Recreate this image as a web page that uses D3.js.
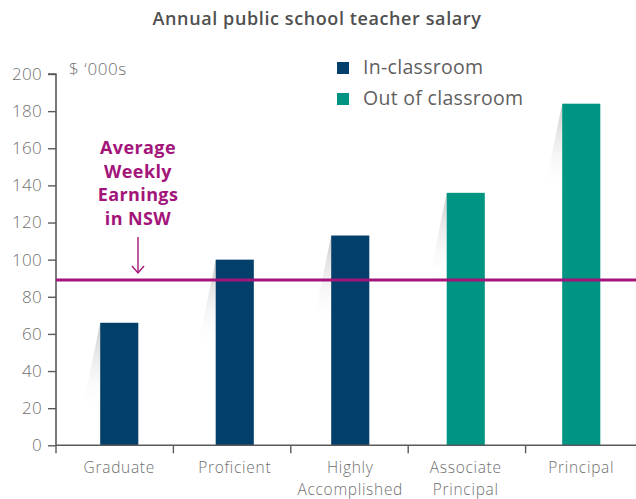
<!DOCTYPE html>
<html>
<head>
<meta charset="utf-8">
<script src="https://cdn.jsdelivr.net/npm/d3@7"></script>
<style>
  html, body { margin: 0; padding: 0; background: #fff; }
  svg { display: block; font-family: "Open Sans", sans-serif; }
</style>
</head>
<body>
<svg id="chart" width="636" height="499"></svg>
<script>
const categories = [["Graduate"], ["Proficient"], ["Highly", "Accomplished"], ["Associate", "Principal"], ["Principal"]];
const categoryKeys = ["Graduate", "Proficient", "Highly Accomplished", "Associate Principal", "Principal"];
const salaries = [66, 100, 113, 136, 184];
const seriesOf = ["In-classroom", "In-classroom", "In-classroom", "Out of classroom", "Out of classroom"];
const seriesNames = ["In-classroom", "Out of classroom"];
const seriesColors = ["#033f6b", "#009483"];
const averageWeekly = 89;
const yTicks = [0, 20, 40, 60, 80, 100, 120, 140, 160, 180, 200];
const annotationLines = ["Average", "Weekly", "Earnings", "in NSW"];

const svg = d3.select("#chart");
const axisColor = "#5a5a5a";
const textColor = "#707070";
const purple = "#a3157a";

const y = d3.scaleLinear().domain([0, 200]).range([445.3, 74]);
const xAxisScale = d3.scaleBand().domain(categoryKeys).range([56, 643]);
const xBar = d3.scaleBand().domain(categoryKeys).range([61.5, 639]).paddingInner(0.67).paddingOuter(0.335);
const color = d3.scaleOrdinal().domain(seriesNames).range(seriesColors);

// title
svg.append("text").attr("x", 317).attr("y", 25).attr("text-anchor", "middle")
  .attr("font-size", 18).attr("font-weight", 600).attr("fill", "#505050").attr("letter-spacing", 0.6)
  .text("Annual public school teacher salary");

// gradient for shadows
const defs = svg.append("defs");
const grad = defs.append("linearGradient").attr("id", "shadow").attr("x1", 0).attr("y1", 0).attr("x2", 0).attr("y2", 1);
grad.append("stop").attr("offset", "0%").attr("stop-color", "#c8c8c8").attr("stop-opacity", 1);
grad.append("stop").attr("offset", "100%").attr("stop-color", "#ffffff").attr("stop-opacity", 0);

// shadows
svg.append("g").selectAll("path").data(categoryKeys).join("path")
  .attr("d", (d, i) => {
    const x0 = xBar(d), t = y(salaries[i]);
    return `M${x0},${t} L${x0 - 18},${t + 88} L${x0},${t + 88} Z`;
  })
  .attr("fill", "url(#shadow)");

// bars
svg.append("g").selectAll("rect").data(categoryKeys).join("rect")
  .attr("x", d => xBar(d))
  .attr("width", xBar.bandwidth())
  .attr("y", (d, i) => y(salaries[i]))
  .attr("height", (d, i) => y(0) - y(salaries[i]))
  .attr("fill", (d, i) => color(seriesOf[i]));

// y axis
const yAxis = d3.axisLeft(y).tickValues(yTicks).tickSize(8).tickPadding(6);
const gy = svg.append("g").attr("transform", "translate(56,0)").call(yAxis);
gy.select(".domain").attr("stroke", axisColor).attr("stroke-width", 1.6).attr("d", `M-8,${y(200)}H0V${y(0)}`);
gy.selectAll(".tick line").attr("stroke", axisColor).attr("stroke-width", 1.4);
gy.selectAll(".tick text").attr("fill", textColor).attr("font-size", 17).attr("font-family", "Open Sans").attr("font-weight", 300).attr("letter-spacing", 0.3);

// x axis
const xAxis = d3.axisBottom(xAxisScale).tickSize(0).tickFormat("");
const gx = svg.append("g").attr("transform", `translate(0,${y(0)})`).call(xAxis);
gx.select(".domain").attr("stroke", axisColor).attr("stroke-width", 1.6).attr("d", `M56,0H636`);
gx.selectAll(".tick").remove();
gx.selectAll("line.sep").data(categoryKeys).join("line").attr("class", "sep")
  .attr("x1", d => xAxisScale(d)).attr("x2", d => xAxisScale(d))
  .attr("y1", 0).attr("y2", 8).attr("stroke", axisColor).attr("stroke-width", 1.4);

// x labels
const xl = svg.append("g").selectAll("text").data(categoryKeys).join("text")
  .attr("text-anchor", "middle").attr("fill", textColor).attr("font-size", 15.5).attr("font-weight", 300)
  .attr("letter-spacing", 0.7)
  .attr("x", d => xBar(d) + xBar.bandwidth() / 2).attr("y", 473);
xl.each(function(d, i) {
  d3.select(this).selectAll("tspan").data(categories[i]).join("tspan")
    .attr("x", xBar(d) + xBar.bandwidth() / 2)
    .attr("dy", (t, j) => j === 0 ? 0 : 21.5)
    .text(t => t);
});

// unit label
svg.append("text").attr("x", 69).attr("y", 75).attr("fill", textColor).attr("font-size", 17).attr("font-weight", 300).attr("letter-spacing", 0.6).text("$ \u2018000s");

// average line
svg.append("line").attr("x1", 56).attr("x2", 636).attr("y1", y(averageWeekly)).attr("y2", y(averageWeekly))
  .attr("stroke", purple).attr("stroke-width", 3);

// annotation
const ax = 138;
svg.append("text").attr("text-anchor", "middle").attr("fill", purple).attr("font-size", 18).attr("font-weight", 700)
  .attr("letter-spacing", 0.4)
  .selectAll("tspan").data(annotationLines).join("tspan")
  .attr("x", ax).attr("y", (d, i) => 154 + i * 23.5).text(d => d);
svg.append("line").attr("x1", ax).attr("x2", ax).attr("y1", 237).attr("y2", 273).attr("stroke", purple).attr("stroke-width", 1.4);
svg.append("path").attr("d", `M${ax - 6},${266} L${ax},${273} L${ax + 6},${266}`).attr("fill", "none").attr("stroke", purple).attr("stroke-width", 1.4);

// legend
const lg = svg.append("g").selectAll("g").data(seriesNames).join("g")
  .attr("transform", (d, i) => `translate(337,${62 + i * 31})`);
lg.append("rect").attr("width", 12).attr("height", 12).attr("fill", d => color(d));
lg.append("text").attr("x", 26).attr("y", 12).attr("fill", "#5f5f5f").attr("font-size", 19.5).attr("font-weight", 400)
  .attr("letter-spacing", 0.3).text(d => d);
</script>
</body>
</html>
